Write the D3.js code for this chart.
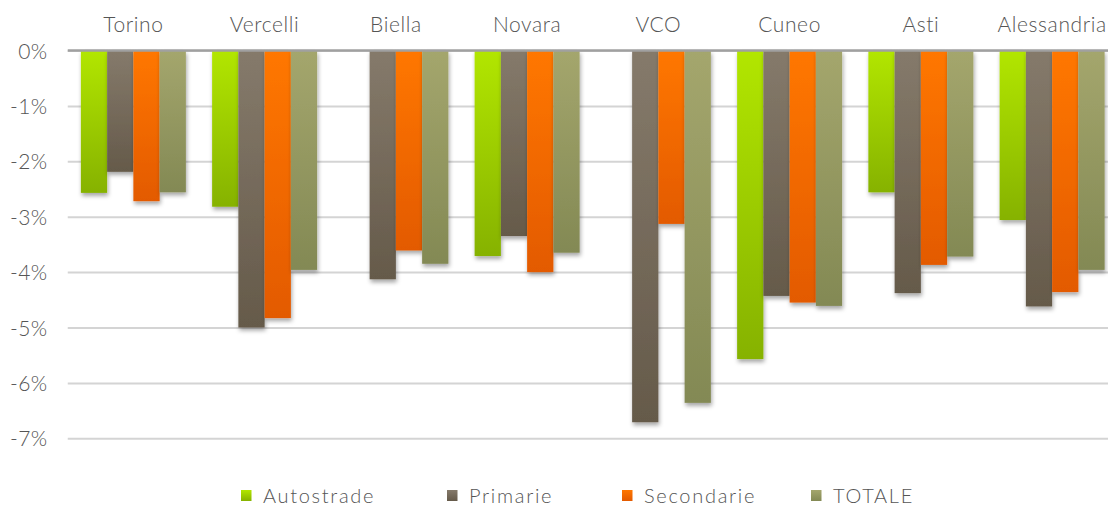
<!DOCTYPE html>
<html>
<head>
<meta charset="utf-8">
<script src="https://cdn.jsdelivr.net/npm/d3@7"></script>
<style>
  html, body { margin: 0; padding: 0; background: #ffffff; }
  svg { display: block; }
  text { font-family: "Lato", "Open Sans", sans-serif; font-weight: 300; fill: #555555; }
</style>
</head>
<body>
<svg id="chart" width="1108" height="506"></svg>
<script>
// Province categories
const provinces = ["Torino", "Vercelli", "Biella", "Novara", "VCO", "Cuneo", "Asti", "Alessandria"];
// Series names
const seriesNames = ["Autostrade", "Primarie", "Secondarie", "TOTALE"];
// Percentage change per road type (null = no value)
const autostrade = [-2.57, -2.82, null, -3.71, null, -5.57, -2.56, -3.06];
const primarie   = [-2.19, -5.00, -4.13, -3.35, -6.71, -4.43, -4.38, -4.62];
const secondarie = [-2.72, -4.83, -3.61, -4.00, -3.13, -4.55, -3.87, -4.36];
const totale     = [-2.56, -3.96, -3.85, -3.65, -6.36, -4.61, -3.72, -3.96];
// Y axis ticks (percent)
const yTicks = [0, -1, -2, -3, -4, -5, -6, -7];

const seriesValues = [autostrade, primarie, secondarie, totale];
const colors = [
  ["#b2e600", "#86b200"],
  ["#857a6b", "#655a4a"],
  ["#ff7700", "#e35a00"],
  ["#a4a66d", "#838954"]
];

const svg = d3.select("#chart");
const margin = { left: 67.75, top: 50.5 };
const plotWidth = 1050;

const x = d3.scaleBand().domain(provinces).range([margin.left, margin.left + plotWidth]).paddingInner(0.2).paddingOuter(0.1);
const x1 = d3.scaleBand().domain(seriesNames).range([0, x.bandwidth()]);
const y = d3.scaleLinear().domain([0, -7]).range([margin.top, 438.3]);

const defs = svg.append("defs");
colors.forEach((c, i) => {
  const g = defs.append("linearGradient").attr("id", "grad" + i)
    .attr("x1", 0).attr("y1", 0).attr("x2", 0).attr("y2", 1);
  g.append("stop").attr("offset", "0%").attr("stop-color", c[0]);
  g.append("stop").attr("offset", "100%").attr("stop-color", c[1]);
});
const shadow = defs.append("filter").attr("id", "shadow")
  .attr("x", "-20%").attr("y", "-5%").attr("width", "140%").attr("height", "115%");
shadow.append("feDropShadow").attr("dx", 1).attr("dy", 3).attr("stdDeviation", 2)
  .attr("flood-color", "#000").attr("flood-opacity", 0.35);

// Grid lines and percent labels
const yAxis = d3.axisLeft(y).tickValues(yTicks).tickSize(-plotWidth).tickPadding(20)
  .tickFormat(d => d + "%");
const gAxis = svg.append("g").attr("transform", `translate(${margin.left},0)`).call(yAxis);
gAxis.select(".domain").remove();
gAxis.selectAll(".tick line").attr("stroke", "#d4d4d4").attr("stroke-width", 2);
gAxis.selectAll(".tick text")
  .style("font-size", "21px").style("letter-spacing", "0.5px")
  .attr("dy", "0.36em").attr("fill", "#555555");

// Bars
const groups = svg.append("g").selectAll("g").data(provinces).join("g")
  .attr("transform", d => `translate(${x(d)},0)`);
groups.selectAll("rect")
  .data((p, pi) => seriesNames.map((s, si) => ({ s, si, v: seriesValues[si][pi] })).filter(d => d.v !== null))
  .join("rect")
  .attr("x", d => x1(d.s))
  .attr("y", y(0))
  .attr("width", x1.bandwidth())
  .attr("height", d => y(d.v) - y(0))
  .attr("fill", d => `url(#grad${d.si})`)
  .attr("filter", "url(#shadow)");

// Zero line
svg.append("line")
  .attr("x1", margin.left).attr("x2", margin.left + plotWidth)
  .attr("y1", y(0)).attr("y2", y(0))
  .attr("stroke", "#a0a0a0").attr("stroke-width", 2.5);

// Category labels above the plot
svg.append("g").selectAll("text").data(provinces).join("text")
  .attr("x", d => x(d) + x.bandwidth() / 2)
  .attr("y", 32)
  .attr("text-anchor", "middle")
  .style("font-size", "21px").style("letter-spacing", "0.6px")
  .text(d => d);

// Legend
const legendX = [241, 447, 622, 811];
const legend = svg.append("g").selectAll("g").data(seriesNames).join("g")
  .attr("transform", (d, i) => `translate(${legendX[i]},0)`);
legend.append("rect").attr("x", 0).attr("y", 490).attr("width", 10.5).attr("height", 11)
  .attr("fill", (d, i) => `url(#grad${i})`);
legend.append("text").attr("x", 22).attr("y", 502.5)
  .style("font-size", "20px").style("letter-spacing", "1.7px").text(d => d);
</script>
</body>
</html>
